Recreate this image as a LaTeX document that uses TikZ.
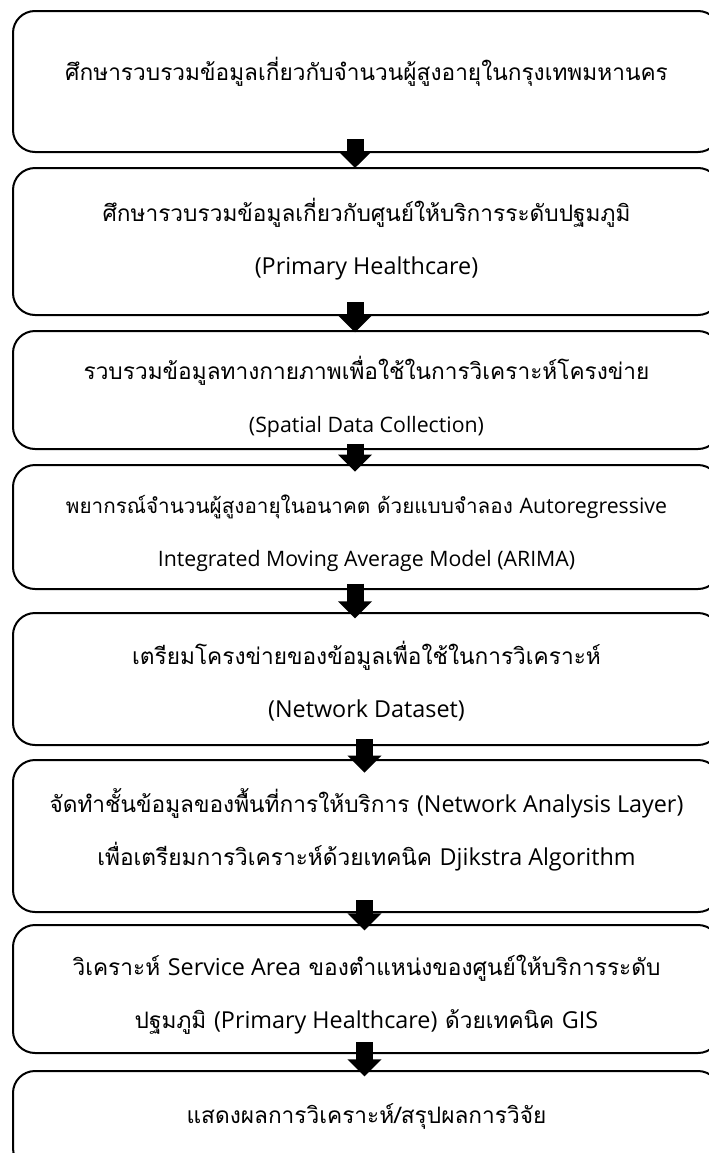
\documentclass[tikz,border=0pt]{standalone}
\usepackage{fontspec}
\newfontfamily\thaifont[Script=Thai]{Loma}
\newfontfamily\engfont{Open Sans}[Scale=1.03]
\newcommand\engtext[1]{{\engfont #1}}
\usetikzlibrary{positioning,arrows.meta}

\begin{document}
\begin{tikzpicture}[x=0.75pt,y=-0.75pt,node distance=12pt,
    stepbox/.style={draw,line width=1.5pt,rounded corners=16.5pt,minimum width=530.25pt,inner sep=0pt,outer sep=0pt},
    steptext/.style={align=center,inner sep=0pt,font=\thaifont\fontsize{17}{39.75}\selectfont},
    smalltext/.style={font=\thaifont\fontsize{15.5}{39.75}\selectfont},
    steparrow/.style={line width=12.75pt,-{Triangle[width=24.75pt,length=12.75pt]}}]
    \useasboundingbox (0,0) rectangle (708,1153);
    % boxes
    \node[stepbox,minimum height=105.75pt] (b1) at (366.5,81.5) {};
    \node[stepbox,minimum height=110.25pt,below=12pt of b1] (b2) {};
    \node[stepbox,minimum height=88.5pt,below=12pt of b2] (b3) {};
    \node[stepbox,minimum height=93pt,below=12pt of b3] (b4) {};
    \node[stepbox,minimum height=99pt,below=18pt of b4] (b5) {};
    \node[stepbox,minimum height=114pt,below=11.25pt of b5] (b6) {};
    \node[stepbox,minimum height=96pt,below=9.75pt of b6] (b7) {};
    \node[stepbox,minimum height=74.25pt,below=13.5pt of b7] (b8) {};
    % texts
    \node[steptext,yshift=7pt] (t1) at (b1) {ศึกษารวบรวมข้อมูลเกี่ยวกับจำนวนผู้สูงอายุในกรุงเทพมหานคร};
    \node[steptext,yshift=2pt] (t2) at (b2) {ศึกษารวบรวมข้อมูลเกี่ยวกับศูนย์ให้บริการระดับปฐมภูมิ\\\engtext{(Primary Healthcare)}};
    \node[steptext,yshift=-5pt] (t3) at (b3) {รวบรวมข้อมูลทางกายภาพเพื่อใช้ในการวิเคราะห์โครงข่าย\\{\fontsize{15.5}{39.75}\selectfont\engtext{(Spatial Data Collection)}}};
    \node[steptext,smalltext,yshift=-4.5pt] (t4) at (b4) {พยากรณ์จำนวนผู้สูงอายุในอนาคต ด้วยแบบจำลอง \engtext{Autoregressive}\\\engtext{Integrated Moving Average Model (ARIMA)}};
    \node[steptext,yshift=-2pt] (t5) at (b5) {เตรียมโครงข่ายของข้อมูลเพื่อใช้ในการวิเคราะห์\\\engtext{(Network Dataset)}};
    \node[steptext,yshift=5pt] (t6) at (b6) {จัดทำชั้นข้อมูลของพื้นที่การให้บริการ \engtext{(Network Analysis Layer)}\\เพื่อเตรียมการวิเคราะห์ด้วยเทคนิค \engtext{Djikstra Algorithm}};
    \node[steptext,yshift=-4.5pt] (t7) at (b7) {วิเคราะห์ \engtext{Service Area} ของตำแหน่งของศูนย์ให้บริการระดับ\\ปฐมภูมิ \engtext{(Primary Healthcare)} ด้วยเทคนิค \engtext{GIS}};
    \node[steptext,yshift=3pt] (t8) at (b8) {แสดงผลการวิเคราะห์/สรุปผลการวิจัย};
    % arrows
    \draw[steparrow] ([xshift=-8.6pt,yshift=9.75pt]b1.south) -- ([xshift=-8.6pt]b2.north);
    \draw[steparrow] ([xshift=-8.6pt,yshift=9.75pt]b2.south) -- ([xshift=-8.6pt,yshift=-1pt]b3.north);
    \draw[steparrow] ([xshift=-8.6pt,yshift=4pt]b3.south) -- ([xshift=-8.6pt,yshift=-5pt]b4.north);
    \draw[steparrow] ([xshift=-8.6pt,yshift=4pt]b4.south) -- ([xshift=-8.6pt,yshift=-4pt]b5.north);
    \draw[steparrow] ([xshift=-1.5pt,yshift=4.5pt]b5.south) -- ([xshift=-1.5pt,yshift=-9.5pt]b6.north);
    \draw[steparrow] ([xshift=-1.5pt,yshift=9pt]b6.south) -- ([xshift=-1.5pt,yshift=-4pt]b7.north);
    \draw[steparrow] ([xshift=-1.5pt,yshift=8.25pt]b7.south) -- ([xshift=-1.5pt,yshift=-4pt]b8.north);
\end{tikzpicture}
\end{document}
